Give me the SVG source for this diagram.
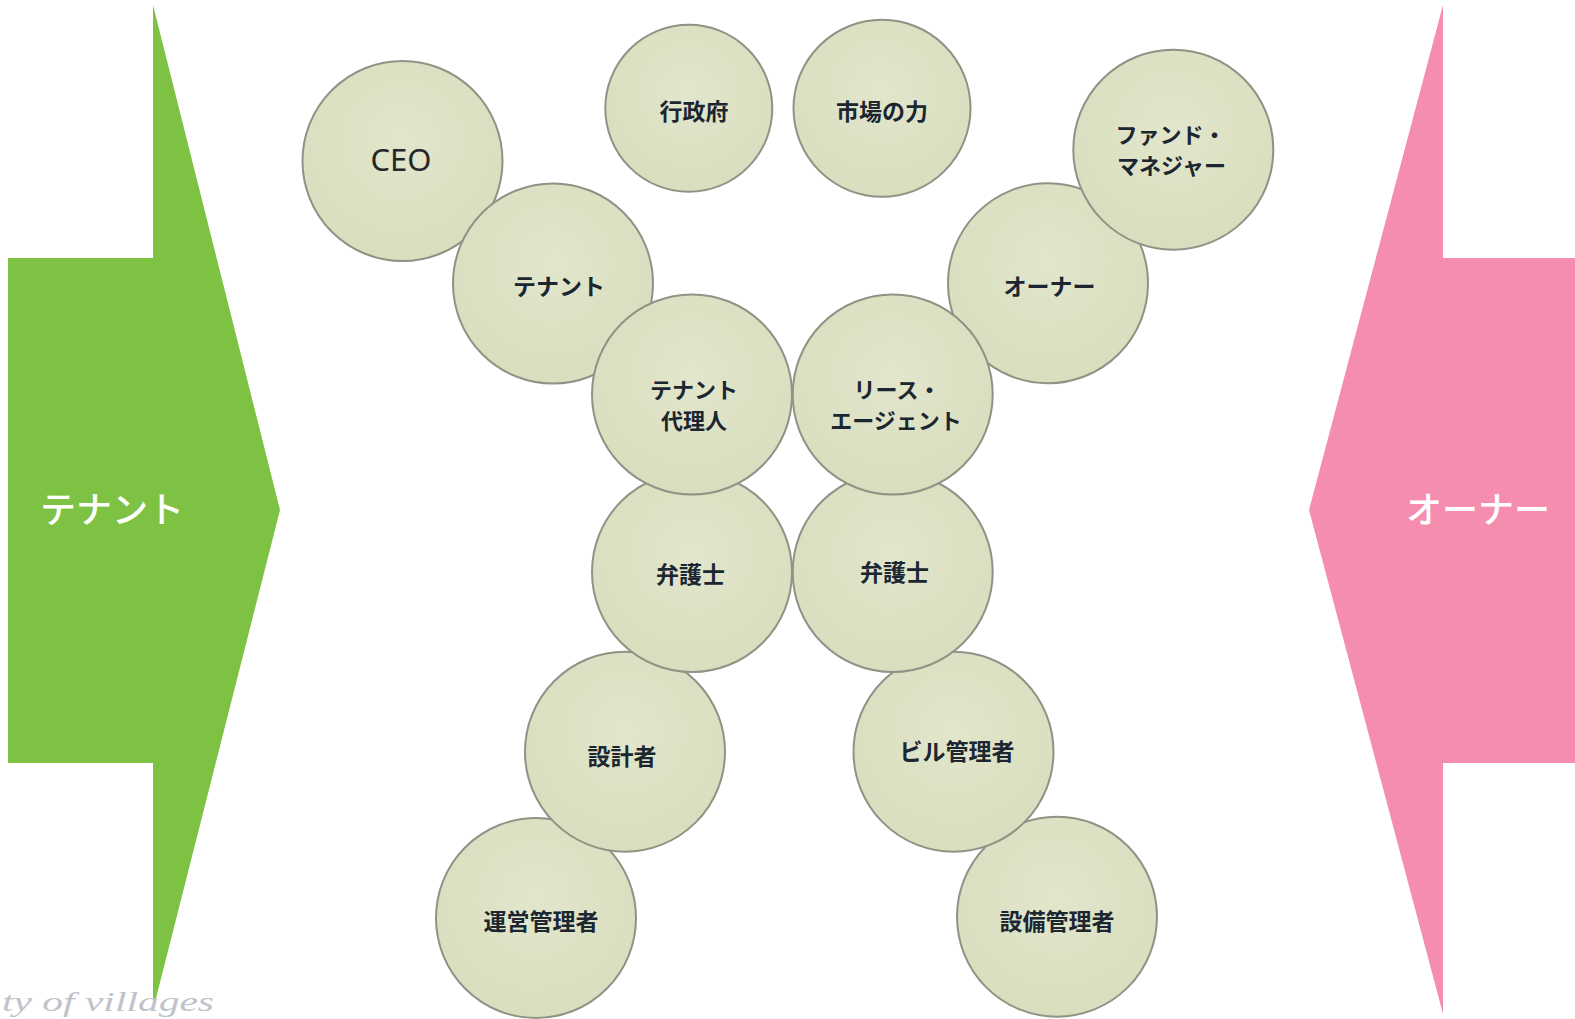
<svg xmlns="http://www.w3.org/2000/svg" width="1575" height="1019" viewBox="0 0 1575 1019">
<defs>
<radialGradient id="bub" cx="50%" cy="40%" r="60%">
<stop offset="0" stop-color="#e2e6cc"/>
<stop offset="1" stop-color="#d8debe"/>
</radialGradient>
<style>
.c{fill:url(#bub);stroke:#8f9385;stroke-width:2}
.t{font-family:"Noto Sans CJK JP","Noto Sans",sans-serif;font-weight:700;font-size:22px;fill:#1b2631;text-anchor:middle}
.a{font-family:"Noto Sans CJK JP","Noto Sans",sans-serif;font-weight:500;font-size:36px;fill:#ffffff}
</style>
</defs>
<rect width="1575" height="1019" fill="#ffffff"/>
<g id="arrow-tenant">
<polygon points="8,258 153,258 153,5 280,510 153,1010 153,763 8,763" fill="#7dc242"/>
<text class="a" x="40" y="523">テナント</text>
</g>
<g id="arrow-owner">
<polygon points="1575,258 1443,258 1443,5 1309,510 1443,1014 1443,763 1575,763" fill="#f58eae"/>
<text class="a" x="1406" y="523">オーナー</text>
</g>
<g id="connectors"></g>
<g id="n-ceo"><circle class="c" cx="402.5" cy="161" r="100"/><text x="401" y="171" style="font-family:'Noto Sans',sans-serif;font-size:31px;fill:#262626;text-anchor:middle">CEO</text></g>
<g id="n-tenant"><circle class="c" cx="553" cy="283.5" r="100"/><text class="t" x="559" y="295" style="font-size:23px">テナント</text></g>
<g id="n-owner"><circle class="c" cx="1048" cy="283.3" r="100"/><text class="t" x="1049.5" y="295" style="font-size:23px">オーナー</text></g>
<g id="n-fund"><circle class="c" cx="1173.3" cy="149.7" r="100"/><text class="t" x="1170.5" y="143">ファンド・</text><text class="t" x="1171.5" y="174">マネジャー</text></g>
<g id="n-ops"><circle class="c" cx="536" cy="918" r="100"/><text class="t" x="541" y="930" style="font-size:23px">運営管理者</text></g>
<g id="n-designer"><circle class="c" cx="625" cy="751.7" r="100"/><text class="t" x="622" y="765" style="font-size:23px">設計者</text></g>
<g id="n-lawyer-l"><circle class="c" cx="692" cy="572" r="100"/><text class="t" x="690.5" y="583" style="font-size:23px">弁護士</text></g>
<g id="n-tenant-agent"><circle class="c" cx="692" cy="394.5" r="100"/><text class="t" x="694" y="398">テナント</text><text class="t" x="694" y="429">代理人</text></g>
<g id="n-facility"><circle class="c" cx="1057" cy="916.7" r="100"/><text class="t" x="1057" y="930" style="font-size:23px">設備管理者</text></g>
<g id="n-building"><circle class="c" cx="953.5" cy="751.7" r="100"/><text class="t" x="957" y="760" style="font-size:23px">ビル管理者</text></g>
<g id="n-lawyer-r"><circle class="c" cx="892.7" cy="572" r="100"/><text class="t" x="894.5" y="581" style="font-size:23px">弁護士</text></g>
<g id="n-lease-agent"><circle class="c" cx="892.7" cy="394.5" r="100"/><text class="t" x="897" y="398">リース・</text><text class="t" x="896" y="429">エージェント</text></g>
<g id="n-gov"><circle class="c" cx="688.8" cy="108.3" r="83.5"/><text class="t" x="694" y="120" style="font-size:23px">行政府</text></g>
<g id="n-market"><circle class="c" cx="882" cy="108.3" r="88.5"/><text class="t" x="882" y="120" style="font-size:23px">市場の力</text></g>
<text x="2" y="1011" style="font-family:'Liberation Serif',serif;font-style:italic;font-size:28px;fill:#bfc3cb" textLength="212" lengthAdjust="spacingAndGlyphs">ty of villages</text>
</svg>
